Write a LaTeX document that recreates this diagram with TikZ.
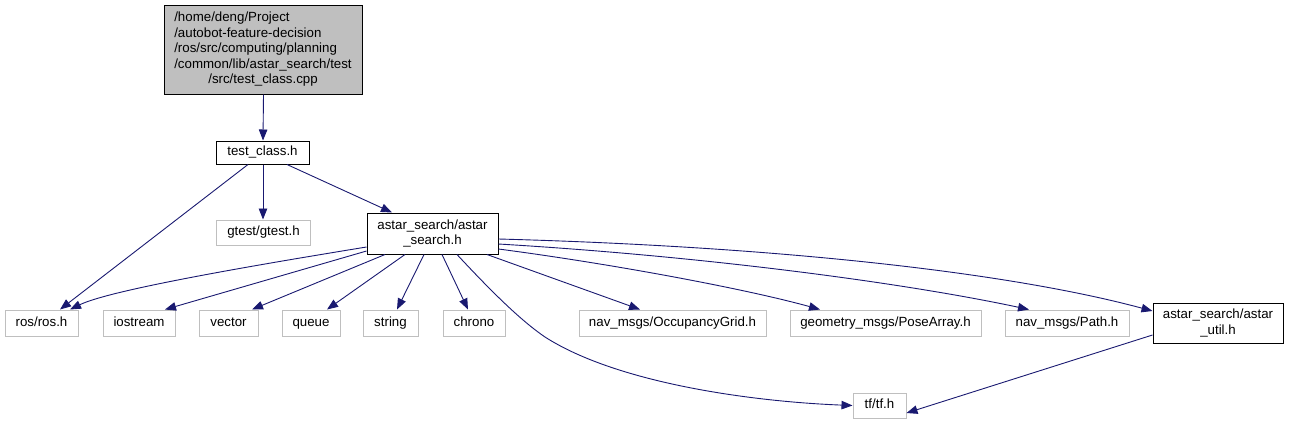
\documentclass[tikz,border=0pt]{standalone}
\usepackage{fontspec}
\setmainfont{Liberation Sans}
\usetikzlibrary{arrows.meta}
\definecolor{edgeblue}{HTML}{191970}
\definecolor{extgray}{HTML}{BFBFBF}
\begin{document}
\begin{tikzpicture}[x=1pt,y=-1pt,
  base/.style={rectangle,inner sep=0pt,font=\fontsize{13.3}{15.6}\selectfont,align=center},
  oneline/.style={text height=9.6pt,text depth=2.8pt},
  mainbox/.style={base,draw=black,line width=1pt},
  extbox/.style={base,oneline,draw=extgray,line width=1pt},
  rootbox/.style={base,draw=black,fill=extgray,line width=1pt},
  edge/.style={draw=edgeblue,line width=0.9pt,-{Triangle[length=11pt,width=8.5pt]}}]
\useasboundingbox (0,0) rectangle (1289,424);
\node[rootbox,minimum width=198pt,minimum height=89pt] (root) at (263,49.5)
  {\begin{tabular}{@{}l@{}}/home/deng/Project\\/autobot-feature-decision\\/ros/src/computing/planning\\/common/lib/astar\_search/test\\\multicolumn{1}{@{}c@{}}{/src/test\_class.cpp}\end{tabular}};
\node[mainbox,oneline,minimum width=93pt,minimum height=23pt] (tc) at (262.5,152.5) {test\_class.h};
\node[extbox,minimum width=94pt,minimum height=25pt] (gtest) at (263.5,232.5) {gtest/gtest.h};
\node[mainbox,minimum width=131pt,minimum height=41pt] (astar) at (432.5,233.5) {astar\_search/astar\\\_search.h};
\node[extbox,minimum width=73pt,minimum height=26pt] (ros) at (41.5,323) {ros/ros.h};
\node[extbox,minimum width=72pt,minimum height=26pt] (ios) at (139,323) {iostream};
\node[extbox,minimum width=59pt,minimum height=26pt] (vec) at (228.5,323) {vector};
\node[extbox,minimum width=58pt,minimum height=26pt] (que) at (311,323) {queue};
\node[extbox,minimum width=55pt,minimum height=26pt] (str) at (390.5,323) {string};
\node[extbox,minimum width=62pt,minimum height=26pt] (chr) at (474,323) {chrono};
\node[extbox,minimum width=187pt,minimum height=26pt] (occ) at (672.5,323) {nav\_msgs/OccupancyGrid.h};
\node[extbox,minimum width=191pt,minimum height=26pt] (pose) at (885.5,323) {geometry\_msgs/PoseArray.h};
\node[extbox,minimum width=124pt,minimum height=26pt] (path) at (1067,323) {nav\_msgs/Path.h};
\node[mainbox,minimum width=130pt,minimum height=40pt] (util) at (1218,323) {astar\_search/astar\\\_util.h};
\node[extbox,minimum width=53pt,minimum height=25pt] (tf) at (879.5,405.5) {tf/tf.h};
% edges
\draw[edge] ([xshift=0.5pt]root.south) -- ([xshift=0.5pt]tc.north);
\draw[edge] ([xshift=0.5pt]tc.south) -- ([xshift=-0.5pt]gtest.north);
\draw[edge] ([xshift=-14.5pt]tc.south) -- ([xshift=18.5pt]ros.north);
\draw[edge] ([xshift=24.5pt]tc.south) -- ([xshift=-40.5pt]astar.north);
\draw[edge] ([yshift=-13.5pt]astar.west) .. controls (250,266) and (110,290) .. ([xshift=28.5pt]ros.north);
\draw[edge] ([yshift=-17.5pt]astar.west) -- ([xshift=26pt]ios.north);
\draw[edge] ([xshift=-47.5pt]astar.south) -- ([xshift=23.5pt]vec.north);
\draw[edge] ([xshift=-27.5pt]astar.south) -- ([xshift=16pt]que.north);
\draw[edge] ([xshift=-8.5pt]astar.south) -- ([xshift=6.5pt]str.north);
\draw[edge] ([xshift=9.5pt]astar.south) -- ([xshift=-6pt]chr.north);
\draw[edge] ([xshift=24.5pt]astar.south) .. controls (490,290) and (520,320) .. (545,337) .. controls (620,385) and (760,402) .. (tf.west);
\draw[edge] ([xshift=54.5pt]astar.south) -- ([xshift=-32.5pt]occ.north);
\draw[edge] ([yshift=-15.5pt]astar.east) .. controls (620,265) and (750,290) .. ([xshift=-65.5pt]pose.north);
\draw[edge] ([yshift=-10.5pt]astar.east) .. controls (700,256) and (900,282) .. ([xshift=-38pt]path.north);
\draw[edge] ([yshift=-5.5pt]astar.east) .. controls (760,246) and (1000,270) .. ([yshift=12pt]util.west);
\draw[edge] ([yshift=-12pt]util.west) -- ([yshift=-7.5pt]tf.east);
\end{tikzpicture}
\end{document}
